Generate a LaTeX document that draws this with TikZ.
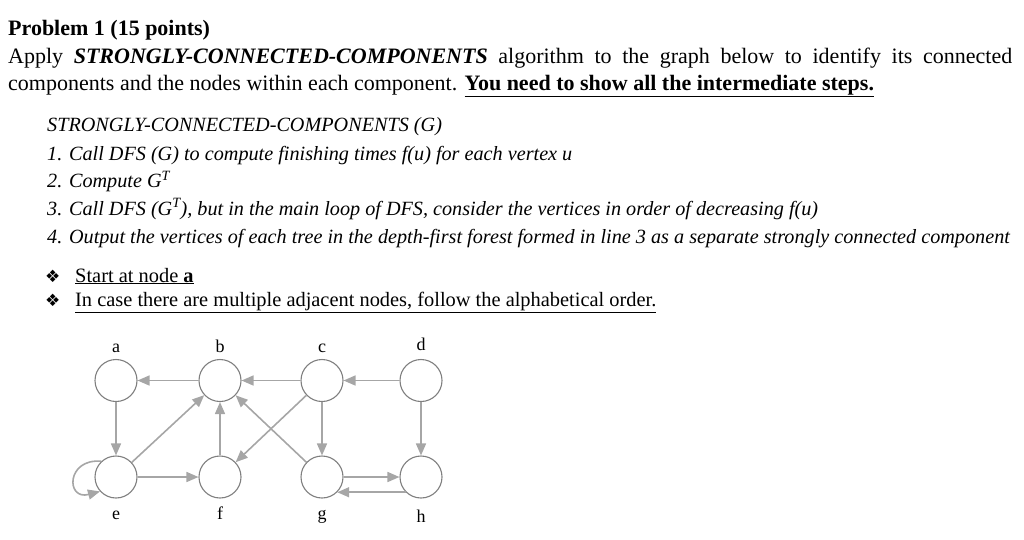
\documentclass[tikz,border=0pt]{standalone}
\usepackage{fontspec}
\setmainfont{Liberation Serif}
\newfontfamily\symfont{DejaVu Sans}
\usetikzlibrary{positioning,arrows.meta}
\definecolor{nodegray}{HTML}{7F7F7F}
\definecolor{edgegray}{HTML}{A6A6A6}
\tikzstyle{vertex} = [circle,draw=nodegray,line width=1.1pt,minimum size=42pt,inner sep=0pt]
\tikzstyle{lbl} = [font=\fontsize{18}{18}\selectfont,inner sep=0pt,anchor=base]
\tikzstyle{arrow} = [color=edgegray,line width=1.6pt,-{Triangle[length=12pt,width=10pt]}]
\tikzstyle{txt} = [inner sep=0pt,anchor=base west,font=\fontsize{22}{27}\selectfont]
\tikzstyle{algo} = [txt,font=\itshape\fontsize{20.2}{24}\selectfont]
\tikzstyle{hint} = [txt,font=\fontsize{20.4}{24}\selectfont]
\tikzstyle{dot} = [txt,font=\symfont\fontsize{17}{17}\selectfont]
\begin{document}
\begin{tikzpicture}[x=1pt,y=-1pt,node distance=100pt,on grid]
	\useasboundingbox (0,0) rectangle (1024,539);
	\node[txt,font=\bfseries\fontsize{22}{27}\selectfont] (title) at (8,35.5) {Problem 1 (15 points)};
	\node[txt,text width=1004pt,align=justify] (intro) at (8,63.3) {Apply \textbf{\textit{STRONGLY-CONNECTED-COMPONENTS}} algorithm to the graph below to identify its connected\linebreak components and the nodes within each component. \underline{\textbf{You need to show all the intermediate steps.}}};
	\node[algo] (algo0) at (47,131.7) {STRONGLY-CONNECTED-COMPONENTS (G)};
	\node[algo] (algo1) at (47,160) {1. Call DFS (G) to compute finishing times f(u) for each vertex u};
	\node[algo] (algo2) at (47,187.7) {2. Compute G\textsuperscript{T}};
	\node[algo] (algo3) at (47,215) {3. Call DFS (G\textsuperscript{T}), but in the main loop of DFS, consider the vertices in order of decreasing f(u)};
	\node[algo] (algo4) at (47,243) {4. Output the vertices of each tree in the depth-first forest formed in line 3 as a separate strongly connected component};
	\node[dot] (dot1) at (45,282) {❖};
	\node[dot] (dot2) at (45,306) {❖};
	\node[hint] (hint1) at (75,282) {\underline{Start at node \textbf{a}}};
	\node[hint] (hint2) at (75,306) {\underline{In case there are multiple adjacent nodes, follow the alphabetical order.}};
	\node[vertex] (a) at (116,380.5) {};
	\node[vertex,right=104pt of a] (b) {};
	\node[vertex,right=102pt of b] (c) {};
	\node[vertex,right=99pt of c] (d) {};
	\node[vertex,below=96.5pt of a] (e) {};
	\node[vertex,below=96.5pt of b] (f) {};
	\node[vertex,below=96.5pt of c] (g) {};
	\node[vertex,below=96.5pt of d] (h) {};
	\node[lbl] (la) at ([yshift=28pt]a.center) {a};
	\node[lbl] (lb) at ([yshift=28pt]b.center) {b};
	\node[lbl] (lc) at ([yshift=28pt]c.center) {c};
	\node[lbl] (ld) at ([yshift=30pt]d.center) {d};
	\node[lbl] (le) at ([yshift=-42pt]e.center) {e};
	\node[lbl] (lf) at ([yshift=-42pt]f.center) {f};
	\node[lbl] (lg) at ([yshift=-42pt]g.center) {g};
	\node[lbl] (lh) at ([yshift=-45pt]h.center) {h};
	\path[arrow]
	(b) edge (a)
	(c) edge (b)
		edge (f)
		edge (g)
	(d) edge (c)
		edge (h)
	(a) edge (e)
	(e) edge (b)
		edge (f)
	(e.133) edge[out=175,in=195,looseness=3] (e.222)
	(f) edge (b)
	(g) edge (b)
		edge (h)
	(h.225) edge (g.-45);
\end{tikzpicture}
\end{document}
